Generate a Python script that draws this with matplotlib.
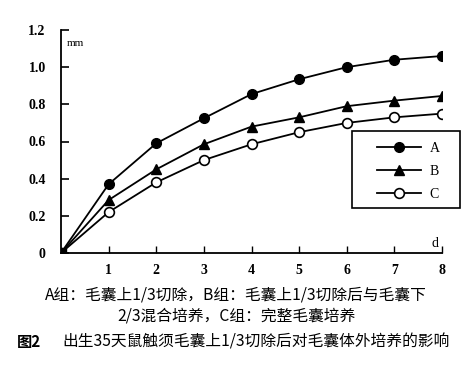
# Figure 2: whisker follicle growth in culture
import matplotlib.pyplot as plt
from matplotlib.patches import Rectangle
from matplotlib.ticker import FuncFormatter

plt.rcParams['font.family'] = ['Liberation Serif', 'Noto Sans CJK SC']

days = [0, 1, 2, 3, 4, 5, 6, 7, 8]
group_a = [0, 0.37, 0.59, 0.725, 0.855, 0.935, 1.0, 1.04, 1.06]
group_b = [0, 0.285, 0.45, 0.585, 0.68, 0.73, 0.79, 0.82, 0.845]
group_c = [0, 0.22, 0.38, 0.50, 0.585, 0.65, 0.70, 0.73, 0.75]
labels = ['A', 'B', 'C']
y_ticks = [0, 0.2, 0.4, 0.6, 0.8, 1.0, 1.2]
x_ticks = [1, 2, 3, 4, 5, 6, 7, 8]

caption1 = 'A组：毛囊上1/3切除，B组：毛囊上1/3切除后与毛囊下'
caption2 = '2/3混合培养，C组：完整毛囊培养'
caption3 = '出生35天鼠触须毛囊上1/3切除后对毛囊体外培养的影响'

fig = plt.figure(figsize=(4.76, 3.65), dpi=100)
ax = fig.add_axes([61/476, 1-253/365, 381/476, 223/365])

ax.plot(days, group_a, '-o', color='black', mfc='black', ms=7, lw=1.3, label=labels[0])
ax.plot(days, group_b, '-^', color='black', mfc='black', ms=7, lw=1.3, label=labels[1])
ax.plot(days, group_c, '-o', color='black', mfc='white', ms=7, mew=1.2, lw=1.3, label=labels[2])
ax.plot([0], [0], 's', color='black', ms=7)

ax.set_xlim(0, 8)
ax.set_ylim(0, 1.2)
ax.set_xticks(x_ticks)
ax.set_yticks(y_ticks)
ax.yaxis.set_major_formatter(FuncFormatter(lambda v, p: '0' if v == 0 else '%.1f' % v))
ax.tick_params(axis='y', direction='in', length=6, width=1.2, pad=11, labelsize=10)
ax.tick_params(axis='x', direction='in', length=5, width=1.0, pad=8, labelsize=10)
for t in ax.get_xticklabels() + ax.get_yticklabels():
    t.set_fontweight('bold')

ax.spines['top'].set_visible(False)
ax.spines['right'].set_visible(False)
ax.spines['left'].set_linewidth(1.3)
ax.spines['bottom'].set_linewidth(1.3)
ax.patch.set_alpha(0)

ax.text(0.3, 1.13, 'mm', fontsize=8, ha='center', va='center')
ax.text(7.85, 0.05, 'd', fontsize=10, ha='center', va='center')

# legend without its own frame, box drawn separately
leg = ax.legend(loc='upper left', bbox_to_anchor=(377/476, 1-142/365),
                bbox_transform=fig.transFigure, frameon=False,
                handlelength=3.2, handletextpad=0.6, labelspacing=0.72,
                borderpad=0, fontsize=10, borderaxespad=0)
fig.add_artist(Rectangle((352/476, 1-208/365), 108/476, 77/365,
                         transform=fig.transFigure, fill=False,
                         edgecolor='black', lw=1.2))

cjk = ['Noto Sans CJK SC', 'DejaVu Sans']
fig.text(236/476, 1-295/365, caption1, fontsize=11.3, ha='center', va='center', family=cjk)
fig.text(236/476, 1-316/365, caption2, fontsize=11.3, ha='center', va='center', family=cjk)
fig.text(17/476, 1-342/365, '图2', fontsize=11, ha='left', va='center',
         fontweight='bold', family=cjk)
fig.text(62/476, 1-342/365, caption3, fontsize=11.3, ha='left', va='center', family=cjk)

fig.savefig('out.png', dpi=100)
